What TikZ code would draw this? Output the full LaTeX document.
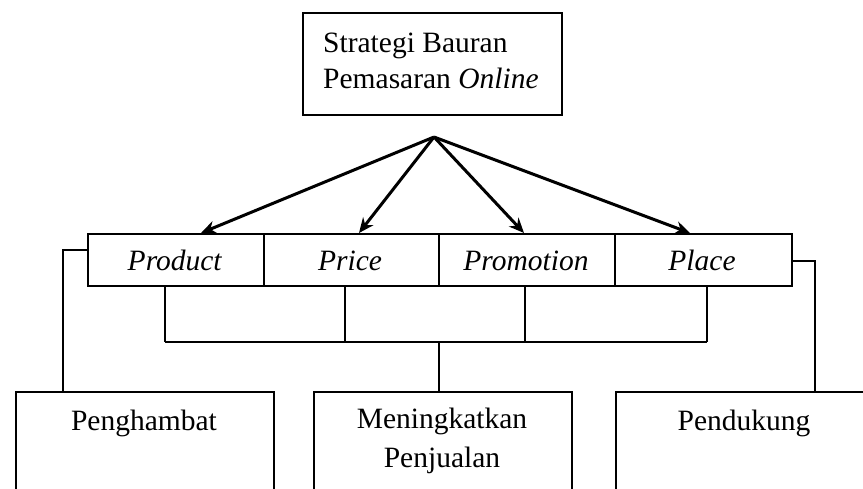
\documentclass[tikz,border=0pt]{standalone}
\usepackage{fontspec}
\setmainfont{Liberation Serif}
\usetikzlibrary{arrows.meta,calc}
\begin{document}
\begin{tikzpicture}[x=1pt,y=-1pt,
  every node/.style={font=\fontsize{29.5}{37}\selectfont},
  frame/.style={draw, line width=1.6pt, inner sep=0pt},
  cell/.style={frame, minimum height=52pt, anchor=north west},
  lbl/.style={anchor=base, inner sep=0pt},
  conn/.style={line width=1.6pt},
  arr/.style={line width=3pt, -{Stealth[length=15pt,width=13pt]}}]
\useasboundingbox (0,0) rectangle (863,488);
\clip (0,0) rectangle (863,488);
% top box
\node[frame, minimum width=259pt, minimum height=102pt, anchor=north west] (top) at (302,12) {};
\node[lbl, anchor=base west] (t1) at (323,52) {Strategi Bauran};
\node[lbl, anchor=base west] (t2) at (323,88) {Pemasaran \textit{Online}};
% row of four
\node[cell, minimum width=176pt] (p1) at (87,233) {};
\node[cell, minimum width=175pt] (p2) at (263,233) {};
\node[cell, minimum width=176pt] (p3) at (438,233) {};
\node[cell, minimum width=177pt] (p4) at (614,233) {};
\node[lbl] (l1) at (175,270) {\textit{Product}};
\node[lbl] (l2) at (350,270) {\textit{Price}};
\node[lbl] (l3) at (526,270) {\textit{Promotion}};
\node[lbl] (l4) at (702,270) {\textit{Place}};
% bottom boxes
\node[frame, minimum width=258pt, minimum height=140pt, anchor=north west] (b1) at (15,391) {};
\node[frame, minimum width=258pt, minimum height=140pt, anchor=north west] (b2) at (313,391) {};
\node[frame, minimum width=258pt, minimum height=140pt, anchor=north west] (b3) at (615,391) {};
\node[lbl] (m1) at (144,430) {Penghambat};
\node[lbl] (m2) at (442,428) {Meningkatkan};
\node[lbl] (m3) at (442,467) {Penjualan};
\node[lbl] (m4) at (744,430) {Pendukung};
% arrows
\coordinate (o) at (434,137);
\draw[arr] (o) -- (201,233);
\draw[arr] (o) -- (359,233);
\draw[arr] (o) -- (524,233);
\draw[arr] (o) -- (690,233);
% bus
\coordinate (d1) at (165,342);
\coordinate (d2) at (345,342);
\coordinate (d3) at (525,342);
\coordinate (d4) at (707,342);
\coordinate (bc) at (439,342);
\draw[conn] (d1 |- p1.south) -- (d1);
\draw[conn] (d2 |- p2.south) -- (d2);
\draw[conn] (d3 |- p3.south) -- (d3);
\draw[conn] (d4 |- p4.south) -- (d4);
\draw[conn] (d1) -- (d4);
\draw[conn] (bc) -- (bc |- b2.north);
% side connectors
\coordinate (lc) at (63,250);
\coordinate (rc) at (815,261);
\draw[conn] (lc -| p1.west) -- (lc) -- (lc |- b1.north);
\draw[conn] (rc -| p4.east) -- (rc) -- (rc |- b3.north);
\end{tikzpicture}
\end{document}
